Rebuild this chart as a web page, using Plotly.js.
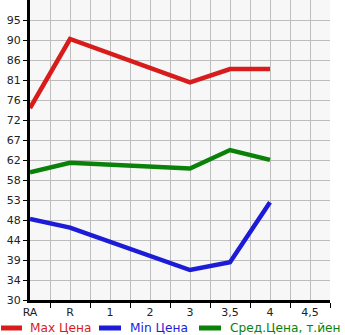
<!DOCTYPE html>
<html>
<head>
<meta charset="utf-8">
<script src="https://cdn.plot.ly/plotly-3.0.1.min.js"></script>
<style>html,body{margin:0;padding:0;background:#fff;}#chart{width:345px;height:335px;}</style>
</head>
<body>
<div id="chart"></div>
<script>
const categories = ['RA', 'R', '1', '2', '3', '3,5', '4', '4,5'];
const maxPrice = [74.8, 90.9, null, null, 80.8, 83.9, 83.9, null];
const minPrice = [48.9, 46.9, null, null, 37.0, 38.8, 52.8, null];
const avgPrice = [59.8, 62.0, null, null, 60.7, 65.0, 62.7, null];
const yLabels = ['30','34','39','44','48','53','58','62','67','72','76','81','86','90','95'];
const seriesNames = ['Max Цена', 'Min Цена', 'Сред.Цена, т.йен'];
const colors = ['#d81c1c', '#1c1cd8', '#0a820a'];

const xIdx = categories.map((c, i) => i);
const yMin = 30, yMax = 100;
const yStep = (yMax - yMin) / yLabels.length;
const yTickVals = yLabels.map((l, i) => yMin + i * yStep);

const traces = [maxPrice, minPrice, avgPrice].map((vals, k) => ({
  x: xIdx, y: vals, type: 'scatter', mode: 'lines', connectgaps: true,
  name: seriesNames[k], showlegend: false,
  line: {color: colors[k], width: 4.5}
}));

// legend drawn manually
const pxToX = px => (px - 30) / 300;
const pxToY = py => (300 - py) / 300;
const legendPos = [[1, 22, 28], [99, 121, 128], [199, 221, 228]];
const shapes = legendPos.map((p, k) => ({
  type: 'line', xref: 'paper', yref: 'paper',
  x0: pxToX(p[0]), x1: pxToX(p[1]), y0: pxToY(328), y1: pxToY(328),
  line: {color: colors[k], width: 5}
}));
const annotations = legendPos.map((p, k) => ({
  xref: 'paper', yref: 'paper', x: pxToX(p[2]), y: pxToY(328),
  xanchor: 'left', yanchor: 'middle', showarrow: false,
  text: seriesNames[k], font: {family: 'DejaVu Sans', size: 12.2, color: colors[k]}
}));

const layout = {
  width: 345, height: 335,
  margin: {l: 30, r: 15, t: 0, b: 35},
  paper_bgcolor: '#ffffff', plot_bgcolor: '#f7f7f7',
  font: {family: 'DejaVu Sans', size: 11, color: '#222'},
  xaxis: {
    range: [0, 7.5], tickvals: xIdx, ticktext: categories,
    ticks: '', showgrid: true, gridcolor: '#bdbdbd', gridwidth: 1,
    showline: true, linecolor: '#000', linewidth: 3, zeroline: false,
    tickfont: {size: 11, color: '#222'},
    minor: {tickvals: xIdx.map(i => i + 0.5), ticks: 'outside', ticklen: 5, tickcolor: '#000', tickwidth: 1, showgrid: true, gridcolor: '#bdbdbd', gridwidth: 1},
    fixedrange: true
  },
  yaxis: {
    range: [yMin, yMax], tickvals: yTickVals, ticktext: yLabels,
    ticks: 'outside', ticklen: 4, tickcolor: '#000', tickwidth: 1,
    showgrid: true, gridcolor: '#bdbdbd', gridwidth: 1,
    showline: true, linecolor: '#000', linewidth: 3, zeroline: false,
    tickfont: {size: 11, color: '#222'},
    fixedrange: true
  },
  shapes: shapes,
  annotations: annotations
};

Plotly.newPlot('chart', traces, layout, {displayModeBar: false, staticPlot: true});
</script>
</body>
</html>
